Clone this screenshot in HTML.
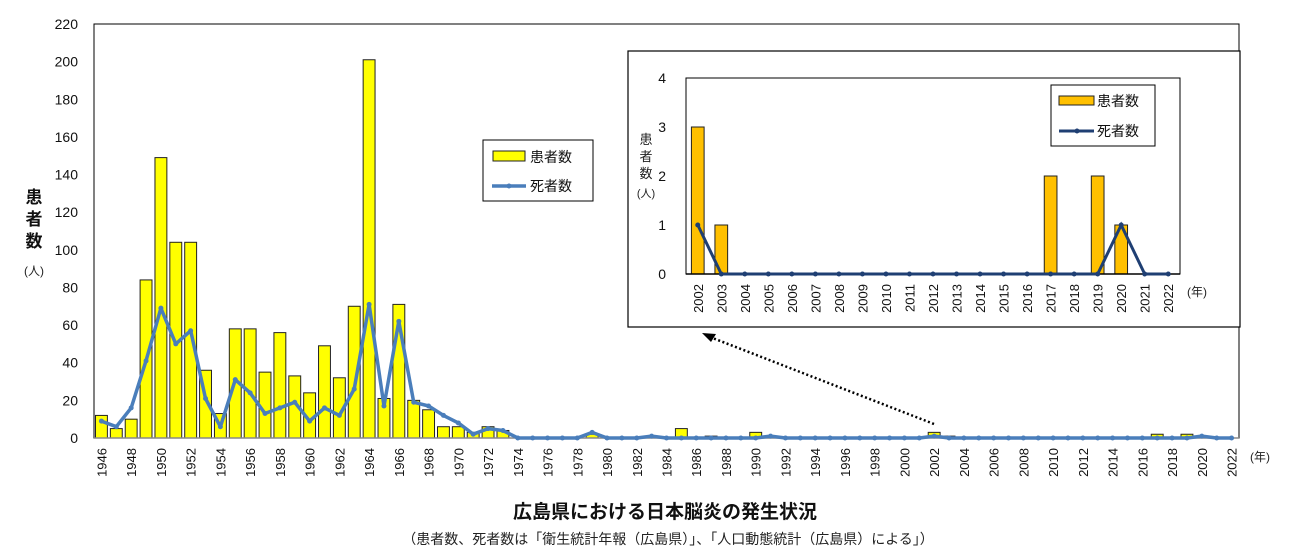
<!DOCTYPE html>
<html><head><meta charset="utf-8">
<style>
body{margin:0;background:#fff;}
svg{display:block;font-family:"Liberation Sans","Noto Sans CJK JP",sans-serif;}
</style></head>
<body>
<svg id="chart" width="1296" height="556" viewBox="0 0 1296 556">
<g id="main"></g><g id="inset"></g>
<text x="665" y="518" text-anchor="middle" font-size="19" font-weight="bold" fill="#111">広島県における日本脳炎の発生状況</text>
<text x="668" y="544" text-anchor="middle" font-size="14" fill="#222">（患者数、死者数は「衛生統計年報（広島県）」、「人口動態統計（広島県）による」）</text>
</svg>
<script>
const years = [];
for (let y = 1946; y <= 2022; y++) years.push(y);
const patients = [12,5,10,84,149,104,104,36,13,58,58,35,56,33,24,49,32,70,201,21,71,20,15,6,6,3,6,4,0,0,0,0,0,2,0,0,0,0,0,5,0,1,0,0,3,0,0,0,0,0,0,0,0,0,0,0,3,1,0,0,0,0,0,0,0,0,0,0,0,0,0,2,0,2,1,0,0];
const deaths = [9,6,16,41,69,50,57,21,6,31,24,13,16,19,9,16,12,26,71,17,62,19,17,12,8,2,5,4,0,0,0,0,0,3,0,0,0,1,0,0,0,0,0,0,0,1,0,0,0,0,0,0,0,0,0,0,1,0,0,0,0,0,0,0,0,0,0,0,0,0,0,0,0,0,1,0,0];
const yTicks = [0,20,40,60,80,100,120,140,160,180,200,220];
const insetYears = ["2002","2003","2004","2005","2006","2007","2008","2009","2010","2011","2012","2013","2014","2015","2016","2017","2018","2019","2020","2021","2022"];
const insetPatients = [3,1,0,0,0,0,0,0,0,0,0,0,0,0,0,2,0,2,1,0,0];
const insetDeaths = [1,0,0,0,0,0,0,0,0,0,0,0,0,0,0,0,0,0,1,0,0];
const insetTicks = [0,1,2,3,4];

const NS = "http://www.w3.org/2000/svg";
function mk(parent, tag, attrs, text) {
  const e = document.createElementNS(NS, tag);
  for (const k in attrs) e.setAttribute(k, attrs[k]);
  if (text !== undefined) e.textContent = text;
  parent.appendChild(e);
  return e;
}

// ---- main chart ----
const g = document.getElementById('main');
const L = 94, R = 1239, T = 24, B = 438, YMAX = 220;
const bw = (R - L) / years.length;
const xC = i => L + bw * (i + 0.5);
const yS = v => B - (v / YMAX) * (B - T);

const box = mk(g, 'rect', {x:L, y:T, width:R-L, height:B-T, fill:'none', stroke:'#000', 'stroke-width':1});



yTicks.forEach(t => {
  const lb = mk(g, 'text', {x:78, y:yS(t)+5, 'text-anchor':'end', 'font-size':14, fill:'#111'}, t);
  
  
});
const yt = mk(g, 'text', {x:34, y:203, 'text-anchor':'middle', 'font-size':17, 'font-weight':'bold', fill:'#111'});


['患','者','数'].forEach((c, i) => mk(yt, 'tspan', {x:34, y:203 + i*22}, c));
const yu = mk(g, 'text', {x:34, y:275, 'text-anchor':'middle', 'font-size':12, fill:'#222'}, '(人)');



patients.forEach((v, i) => {
  if (v <= 0) return;
  const r = mk(g, 'rect', {x:xC(i)-bw*0.4, y:yS(v), width:bw*0.8, height:B-yS(v), fill:'#ffff00', stroke:'#222', 'stroke-width':1});
  
  
});
mk(g, 'line', {x1:L, y1:B, x2:R, y2:B, stroke:'#888', 'stroke-width':1.5});

const pts = deaths.map((v, i) => xC(i).toFixed(1) + ',' + yS(v).toFixed(1)).join(' ');
const pl = mk(g, 'polyline', {points:pts, fill:'none', stroke:'#4a7ebb', 'stroke-width':3.5, 'stroke-linejoin':'round'});


deaths.forEach((v, i) => {
  const c = mk(g, 'circle', {cx:xC(i), cy:yS(v), r:2.5, fill:'#4a7ebb'});
  
  
});

years.forEach((y, i) => {
  if (i % 2) return;
  const x = xC(i) + 5, yy = 448;
  const t = mk(g, 'text', {x:x, y:yy, 'text-anchor':'end', 'font-size':13, fill:'#111', transform:`rotate(-90 ${x} ${yy})`}, y);
  
  
});
const xu = mk(g, 'text', {x:1250, y:461, 'font-size':12, fill:'#222'}, '(年)');



// main legend
const lg = mk(g, 'g', {});


mk(lg, 'rect', {x:483, y:140, width:110, height:61, fill:'#fff', stroke:'#000'});
mk(lg, 'rect', {x:493, y:151, width:32, height:10, fill:'#ffff00', stroke:'#222'});
mk(lg, 'text', {x:530, y:162, 'font-size':14, fill:'#111'}, '患者数');
mk(lg, 'line', {x1:492, y1:186, x2:526, y2:186, stroke:'#4a7ebb', 'stroke-width':3.5});
mk(lg, 'circle', {cx:509, cy:186, r:2.5, fill:'#4a7ebb'});
mk(lg, 'text', {x:530, y:191, 'font-size':14, fill:'#111'}, '死者数');

// ---- inset ----
const h = document.getElementById('inset');
const fr = mk(h, 'rect', {x:628, y:51, width:612, height:276, fill:'#fff', stroke:'#000', 'stroke-width':1.2});


const iL = 686, iR = 1180, iT = 78, iB = 274, iMax = 4;
const ibw = (iR - iL) / insetYears.length;
const ix = i => iL + ibw * (i + 0.5);
const iy = v => iB - (v / iMax) * (iB - iT);
mk(h, 'rect', {x:iL, y:iT, width:iR-iL, height:iB-iT, fill:'none', stroke:'#000'});
insetTicks.forEach(t => {
  const lb = mk(h, 'text', {x:666, y:iy(t)+5, 'text-anchor':'end', 'font-size':14, fill:'#111'}, t);
  
  
});
const iyt = mk(h, 'text', {x:646, y:144, 'text-anchor':'middle', 'font-size':13, fill:'#222'});


['患','者','数'].forEach((c, i) => mk(iyt, 'tspan', {x:646, y:144 + i*17}, c));
mk(h, 'text', {x:646, y:197, 'text-anchor':'middle', 'font-size':11, fill:'#222'}, '(人)');
insetPatients.forEach((v, i) => {
  if (v <= 0) return;
  const r = mk(h, 'rect', {x:ix(i)-ibw*0.27, y:iy(v), width:ibw*0.54, height:iB-iy(v), fill:'#ffc000', stroke:'#222', 'stroke-width':1});
  
  
});
mk(h, 'line', {x1:iL, y1:iB, x2:iR, y2:iB, stroke:'#000', 'stroke-width':1.5});
const ipl = mk(h, 'polyline', {points:insetDeaths.map((v,i)=>ix(i).toFixed(1)+','+iy(v).toFixed(1)).join(' '), fill:'none', stroke:'#1f3f73', 'stroke-width':3});


insetDeaths.forEach((v, i) => {
  const c = mk(h, 'circle', {cx:ix(i), cy:iy(v), r:2.5, fill:'#1f3f73'});
  
  
});
insetYears.forEach((y, i) => {
  const x = ix(i) + 5, yy = 284;
  const t = mk(h, 'text', {x:x, y:yy, 'text-anchor':'end', 'font-size':13, fill:'#111', transform:`rotate(-90 ${x} ${yy})`}, y);
  
  
});
mk(h, 'text', {x:1187, y:296, 'font-size':12, fill:'#222'}, '(年)');
const ilg = mk(h, 'g', {});


mk(ilg, 'rect', {x:1051, y:85, width:104, height:61, fill:'#fff', stroke:'#000'});
mk(ilg, 'rect', {x:1059, y:96, width:35, height:9, fill:'#ffc000', stroke:'#222'});
mk(ilg, 'text', {x:1097, y:106, 'font-size':14, fill:'#111'}, '患者数');
mk(ilg, 'line', {x1:1059, y1:131, x2:1094, y2:131, stroke:'#1f3f73', 'stroke-width':3});
mk(ilg, 'circle', {cx:1077, cy:131, r:2.5, fill:'#1f3f73'});
mk(ilg, 'text', {x:1097, y:136, 'font-size':14, fill:'#111'}, '死者数');

// dotted arrow
const ar = mk(h, 'line', {x1:934, y1:424, x2:710, y2:337, stroke:'#000', 'stroke-width':2.5, 'stroke-dasharray':'2,2.5'});


mk(h, 'polygon', {points:'702,333 716,334 711,342', fill:'#000'});
</script>
</body></html>
